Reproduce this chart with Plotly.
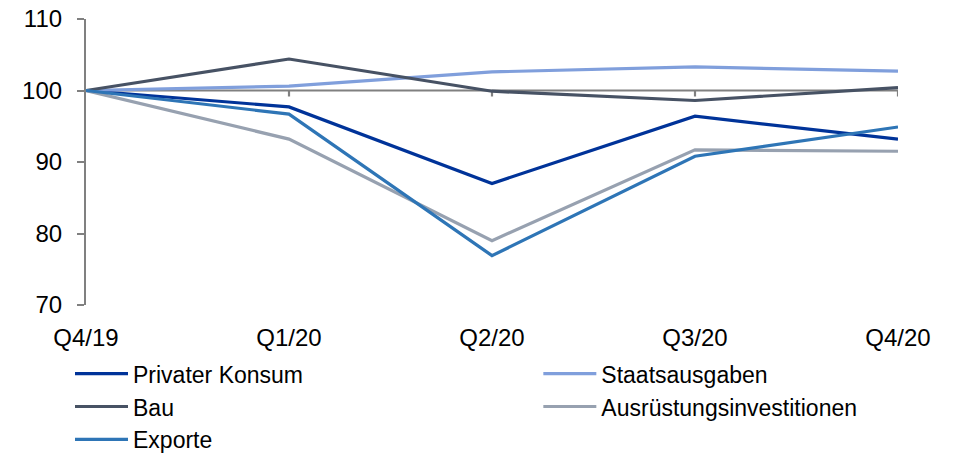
import plotly.graph_objects as go

# Quarterly index values, Q4/19 = 100
quarters = ["Q4/19", "Q1/20", "Q2/20", "Q3/20", "Q4/20"]
privater_konsum = [100, 97.7, 87.0, 96.4, 93.2]
staatsausgaben = [100, 100.6, 102.6, 103.3, 102.7]
bau = [100, 104.4, 99.9, 98.6, 100.4]
ausruestung = [100, 93.2, 79.0, 91.7, 91.5]
exporte = [100, 96.7, 76.9, 90.8, 94.9]

y_ticks = [70, 80, 90, 100, 110]
base_value = 100

FONT = "Liberation Sans, Arial, sans-serif"
AXIS_GREY = "#808080"

series = [
    ("Privater Konsum", privater_konsum, "#003399", "legend"),
    ("Staatsausgaben", staatsausgaben, "#809fdc", "legend2"),
    ("Bau", bau, "#475264", "legend"),
    ("Ausrüstungsinvestitionen", ausruestung, "#97a1b0", "legend2"),
    ("Exporte", exporte, "#2e75b6", "legend"),
]

x_pos = list(range(len(quarters)))

fig = go.Figure()
for name, values, color, leg in series:
    fig.add_trace(go.Scatter(
        x=x_pos, y=values, name=name, mode="lines",
        line=dict(color=color, width=3.2),
        legend=leg,
    ))

# Category axis drawn at the base value, with short ticks hanging below it
fig.add_shape(type="line", xref="x", yref="y",
              x0=x_pos[0], x1=x_pos[-1], y0=base_value, y1=base_value,
              line=dict(color=AXIS_GREY, width=2.2), layer="below")
for xi in x_pos[1:]:
    fig.add_shape(type="line", xref="x", yref="y", ysizemode="pixel",
                  yanchor=base_value, x0=xi, x1=xi, y0=0, y1=-6,
                  line=dict(color=AXIS_GREY, width=2.2), layer="below")

legend_style = dict(
    xref="container", yref="container", xanchor="left", yanchor="top",
    orientation="v", itemwidth=53, tracegroupgap=0,
    font=dict(family=FONT, size=23, color="black"),
    bgcolor="rgba(0,0,0,0)",
)

fig.update_layout(
    width=955, height=455,
    margin=dict(l=86, r=57, t=19, b=150, autoexpand=False),
    plot_bgcolor="white", paper_bgcolor="white",
    font=dict(family=FONT, size=24, color="black"),
    xaxis=dict(
        range=[x_pos[0], x_pos[-1]], tickvals=x_pos, ticktext=quarters,
        showline=False, showgrid=False, zeroline=False, ticks="",
        ticklabelstandoff=16,
        tickfont=dict(family=FONT, size=24, color="black"),
    ),
    yaxis=dict(
        range=[y_ticks[0], y_ticks[-1]], tickvals=y_ticks,
        showline=True, linecolor=AXIS_GREY, linewidth=2.2,
        ticks="outside", ticklen=7, tickwidth=2.2, tickcolor=AXIS_GREY,
        showgrid=False, zeroline=False, ticklabelstandoff=10,
        tickfont=dict(family=FONT, size=24, color="black"),
    ),
    legend=dict(x=0.0733, y=0.226, **legend_style),
    legend2=dict(x=0.5637, y=0.226, **legend_style),
    showlegend=True,
)

fig.write_html("out.html")
